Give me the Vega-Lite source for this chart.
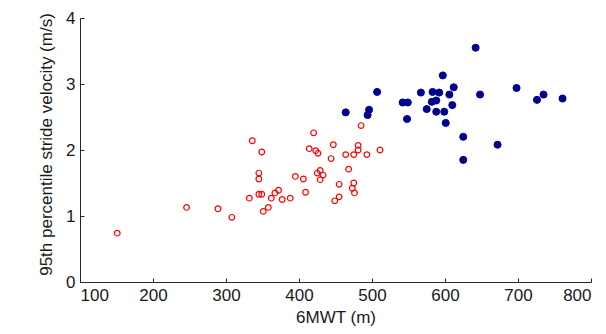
{
  "$schema": "https://vega.github.io/schema/vega-lite/v6.json",
  "width": 511,
  "height": 264,
  "autosize": "none",
  "padding": {"left": 80, "top": 18, "right": 15, "bottom": 52},
  "background": "white",
  "config": {
    "view": {"stroke": null},
    "font": "Liberation Sans",
    "axis": {
      "grid": false,
      "domainColor": "#262626",
      "tickColor": "#262626",
      "labelColor": "#1a1a1a",
      "titleColor": "#1a1a1a",
      "labelFont": "Liberation Sans",
      "titleFont": "Liberation Sans",
      "labelFontSize": 17,
      "titleFontSize": 17,
      "titleFontWeight": "normal",
      "tickSize": -4,
      "domainWidth": 1,
      "tickWidth": 1
    }
  },
  "data": {
    "values": [
      {"x": 151, "y": 0.74, "g": "low"},
      {"x": 246, "y": 1.13, "g": "low"},
      {"x": 289, "y": 1.11, "g": "low"},
      {"x": 308, "y": 0.98, "g": "low"},
      {"x": 336, "y": 2.14, "g": "low"},
      {"x": 349, "y": 1.97, "g": "low"},
      {"x": 345, "y": 1.65, "g": "low"},
      {"x": 345, "y": 1.56, "g": "low"},
      {"x": 332, "y": 1.27, "g": "low"},
      {"x": 345, "y": 1.33, "g": "low"},
      {"x": 349, "y": 1.33, "g": "low"},
      {"x": 351, "y": 1.07, "g": "low"},
      {"x": 358, "y": 1.13, "g": "low"},
      {"x": 362, "y": 1.27, "g": "low"},
      {"x": 367, "y": 1.35, "g": "low"},
      {"x": 372, "y": 1.39, "g": "low"},
      {"x": 377, "y": 1.25, "g": "low"},
      {"x": 388, "y": 1.27, "g": "low"},
      {"x": 395, "y": 1.60, "g": "low"},
      {"x": 406, "y": 1.56, "g": "low"},
      {"x": 409, "y": 1.36, "g": "low"},
      {"x": 420, "y": 2.26, "g": "low"},
      {"x": 414, "y": 2.02, "g": "low"},
      {"x": 423, "y": 1.99, "g": "low"},
      {"x": 426, "y": 1.95, "g": "low"},
      {"x": 447, "y": 2.08, "g": "low"},
      {"x": 444, "y": 1.87, "g": "low"},
      {"x": 429, "y": 1.69, "g": "low"},
      {"x": 425, "y": 1.65, "g": "low"},
      {"x": 433, "y": 1.62, "g": "low"},
      {"x": 429, "y": 1.55, "g": "low"},
      {"x": 455, "y": 1.48, "g": "low"},
      {"x": 468, "y": 1.71, "g": "low"},
      {"x": 464, "y": 1.93, "g": "low"},
      {"x": 475, "y": 1.93, "g": "low"},
      {"x": 481, "y": 2.07, "g": "low"},
      {"x": 481, "y": 2.00, "g": "low"},
      {"x": 493, "y": 1.93, "g": "low"},
      {"x": 511, "y": 2.00, "g": "low"},
      {"x": 485, "y": 2.37, "g": "low"},
      {"x": 475, "y": 1.50, "g": "low"},
      {"x": 473, "y": 1.42, "g": "low"},
      {"x": 476, "y": 1.35, "g": "low"},
      {"x": 455, "y": 1.29, "g": "low"},
      {"x": 449, "y": 1.23, "g": "low"},
      {"x": 464, "y": 2.57, "g": "high"},
      {"x": 496, "y": 2.61, "g": "high"},
      {"x": 494, "y": 2.53, "g": "high"},
      {"x": 507, "y": 2.88, "g": "high"},
      {"x": 542, "y": 2.72, "g": "high"},
      {"x": 549, "y": 2.72, "g": "high"},
      {"x": 548, "y": 2.47, "g": "high"},
      {"x": 567, "y": 2.87, "g": "high"},
      {"x": 575, "y": 2.62, "g": "high"},
      {"x": 582, "y": 2.73, "g": "high"},
      {"x": 588, "y": 2.75, "g": "high"},
      {"x": 583, "y": 2.88, "g": "high"},
      {"x": 592, "y": 2.87, "g": "high"},
      {"x": 597, "y": 3.13, "g": "high"},
      {"x": 588, "y": 2.58, "g": "high"},
      {"x": 599, "y": 2.58, "g": "high"},
      {"x": 601, "y": 2.41, "g": "high"},
      {"x": 610, "y": 2.68, "g": "high"},
      {"x": 612, "y": 2.95, "g": "high"},
      {"x": 606, "y": 2.84, "g": "high"},
      {"x": 625, "y": 2.20, "g": "high"},
      {"x": 625, "y": 1.85, "g": "high"},
      {"x": 642, "y": 3.55, "g": "high"},
      {"x": 648, "y": 2.84, "g": "high"},
      {"x": 672, "y": 2.08, "g": "high"},
      {"x": 698, "y": 2.94, "g": "high"},
      {"x": 726, "y": 2.76, "g": "high"},
      {"x": 735, "y": 2.84, "g": "high"},
      {"x": 761, "y": 2.78, "g": "high"}
    ]
  },
  "layer": [
    {
      "transform": [{"filter": "datum.g === 'low'"}],
      "mark": {"type": "point", "shape": "circle", "filled": false, "stroke": "#ff0000", "strokeWidth": 1.2, "size": 32, "opacity": 1},
      "encoding": {
        "x": {"field": "x", "type": "quantitative", "scale": {"domain": [100, 800], "nice": false, "zero": false},
              "axis": {"title": "6MWT (m)", "values": [100, 200, 300, 400, 500, 600, 700, 800], "format": "d", "labelPadding": 9, "titlePadding": 6}},
        "y": {"field": "y", "type": "quantitative", "scale": {"domain": [0, 4], "nice": false},
              "axis": {"title": "95th percentile stride velocity (m/s)", "values": [0, 1, 2, 3, 4], "format": "d", "labelPadding": 9, "titlePadding": 10, "titleY": 126}}
      }
    },
    {
      "transform": [{"filter": "datum.g === 'high'"}],
      "mark": {"type": "point", "shape": "circle", "filled": true, "fill": "#00008f", "stroke": "#00008f", "strokeWidth": 1, "size": 50, "opacity": 1},
      "encoding": {
        "x": {"field": "x", "type": "quantitative"},
        "y": {"field": "y", "type": "quantitative"}
      }
    }
  ]
}
